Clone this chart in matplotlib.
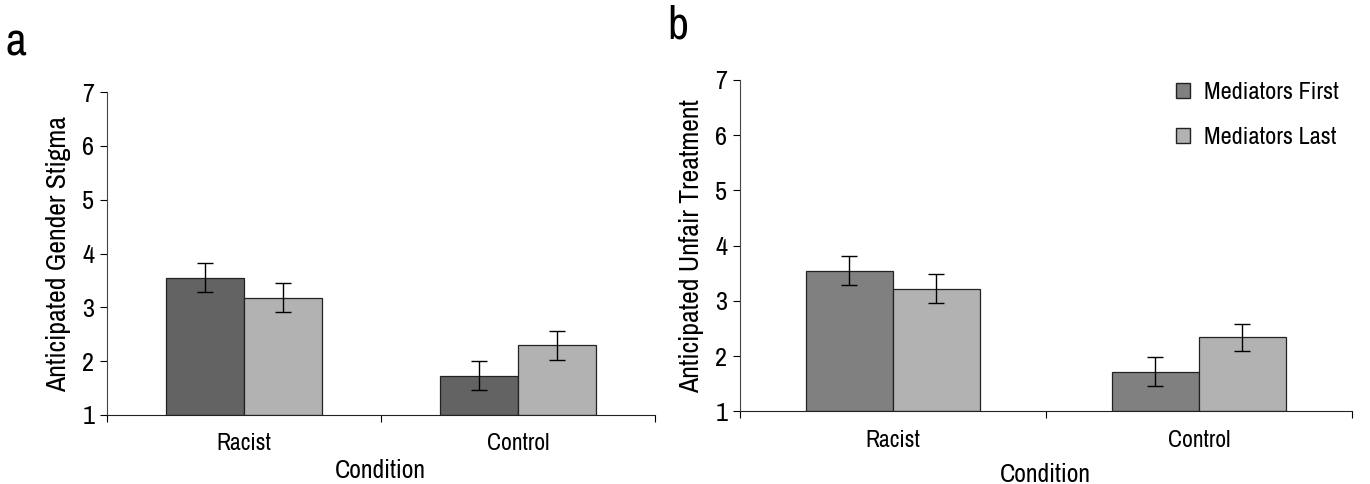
import numpy as np
import matplotlib.pyplot as plt
from matplotlib import font_manager
from matplotlib.patches import Patch

conditions = ['Racist', 'Control']
groups = ['Mediators First', 'Mediators Last']

# panel a: anticipated gender stigma
stigma_first = [3.55, 1.73]
stigma_last = [3.18, 2.30]
stigma_first_err = [0.27, 0.27]
stigma_last_err = [0.27, 0.27]

# panel b: anticipated unfair treatment
unfair_first = [3.55, 1.72]
unfair_last = [3.22, 2.34]
unfair_first_err = [0.26, 0.26]
unfair_last_err = [0.26, 0.25]

# look for a condensed sans face, otherwise use Liberation Sans
narrow = None
for f in font_manager.fontManager.ttflist:
    if 'Narrow' in f.name or 'Condensed' in f.name:
        narrow = f.name
        break
    if f.name == 'DejaVu Sans' and f.stretch == 'condensed' and f.weight in (400, 'normal'):
        narrow = 'DejaVu Sans'
if narrow == 'DejaVu Sans':
    plt.rcParams['font.stretch'] = 'condensed'
plt.rcParams['font.family'] = [narrow or 'Liberation Sans', 'DejaVu Sans']

fig = plt.figure(figsize=(13.7, 4.84), dpi=100)
ax_a = fig.add_axes([0.078, 0.1426, 0.400, 0.667])
ax_b = fig.add_axes([0.540, 0.1498, 0.4467, 0.685])


def draw_panel(ax, first, last, first_err, last_err, dark, ylabel, xpad):
    x = np.arange(len(conditions)) + 0.5
    w = 0.285
    ax.bar(x - w / 2, np.array(first) - 1, w, bottom=1, color=dark,
           edgecolor='#222222', linewidth=0.9, label=groups[0], zorder=2)
    ax.bar(x + w / 2, np.array(last) - 1, w, bottom=1, color='#b2b2b2',
           edgecolor='#222222', linewidth=0.9, label=groups[1], zorder=2)
    ax.errorbar(x - w / 2, first, yerr=first_err, fmt='none', ecolor='black',
                elinewidth=1, capsize=6, capthick=1, zorder=3)
    ax.errorbar(x + w / 2, last, yerr=last_err, fmt='none', ecolor='black',
                elinewidth=1, capsize=6, capthick=1, zorder=3)

    ax.set_xlim(0, len(conditions))
    ax.set_ylim(1, 7)
    ax.set_yticks(range(1, 8))
    ax.set_xticks(range(len(conditions) + 1))
    ax.set_xticklabels([])
    ax.set_xticks(x, minor=True)
    ax.set_xticklabels(conditions, minor=True)
    ax.tick_params(axis='x', which='minor', length=0, pad=13, labelsize=17)
    ax.tick_params(axis='x', which='major', direction='out', length=5)
    ax.tick_params(axis='y', direction='out', length=5, labelsize=19, pad=4)
    for s in ['top', 'right']:
        ax.spines[s].set_visible(False)
    ax.spines['left'].set_color('#444444')
    ax.spines['bottom'].set_color('#222222')
    ax.set_xlabel('Condition', fontsize=18.5, labelpad=xpad)
    ax.set_ylabel(ylabel, fontsize=20, labelpad=8)


draw_panel(ax_a, stigma_first, stigma_last, stigma_first_err, stigma_last_err,
           '#636363', 'Anticipated Gender Stigma', 3.5)
draw_panel(ax_b, unfair_first, unfair_last, unfair_first_err, unfair_last_err,
           '#808080', 'Anticipated Unfair Treatment', 9)

handles = [Patch(facecolor='#808080', edgecolor='#222222', label=groups[0]),
           Patch(facecolor='#b2b2b2', edgecolor='#222222', label=groups[1])]
ax_b.legend(handles=handles, loc='upper right', bbox_to_anchor=(1.015, 1.06),
            frameon=False, fontsize=17.5, handlelength=0.55, handleheight=0.55,
            handletextpad=0.6, labelspacing=1.0)

fig.text(0.004, 0.885, 'a', fontsize=33)
fig.text(0.487, 0.92, 'b', fontsize=33)

fig.savefig('out.png', dpi=100)
